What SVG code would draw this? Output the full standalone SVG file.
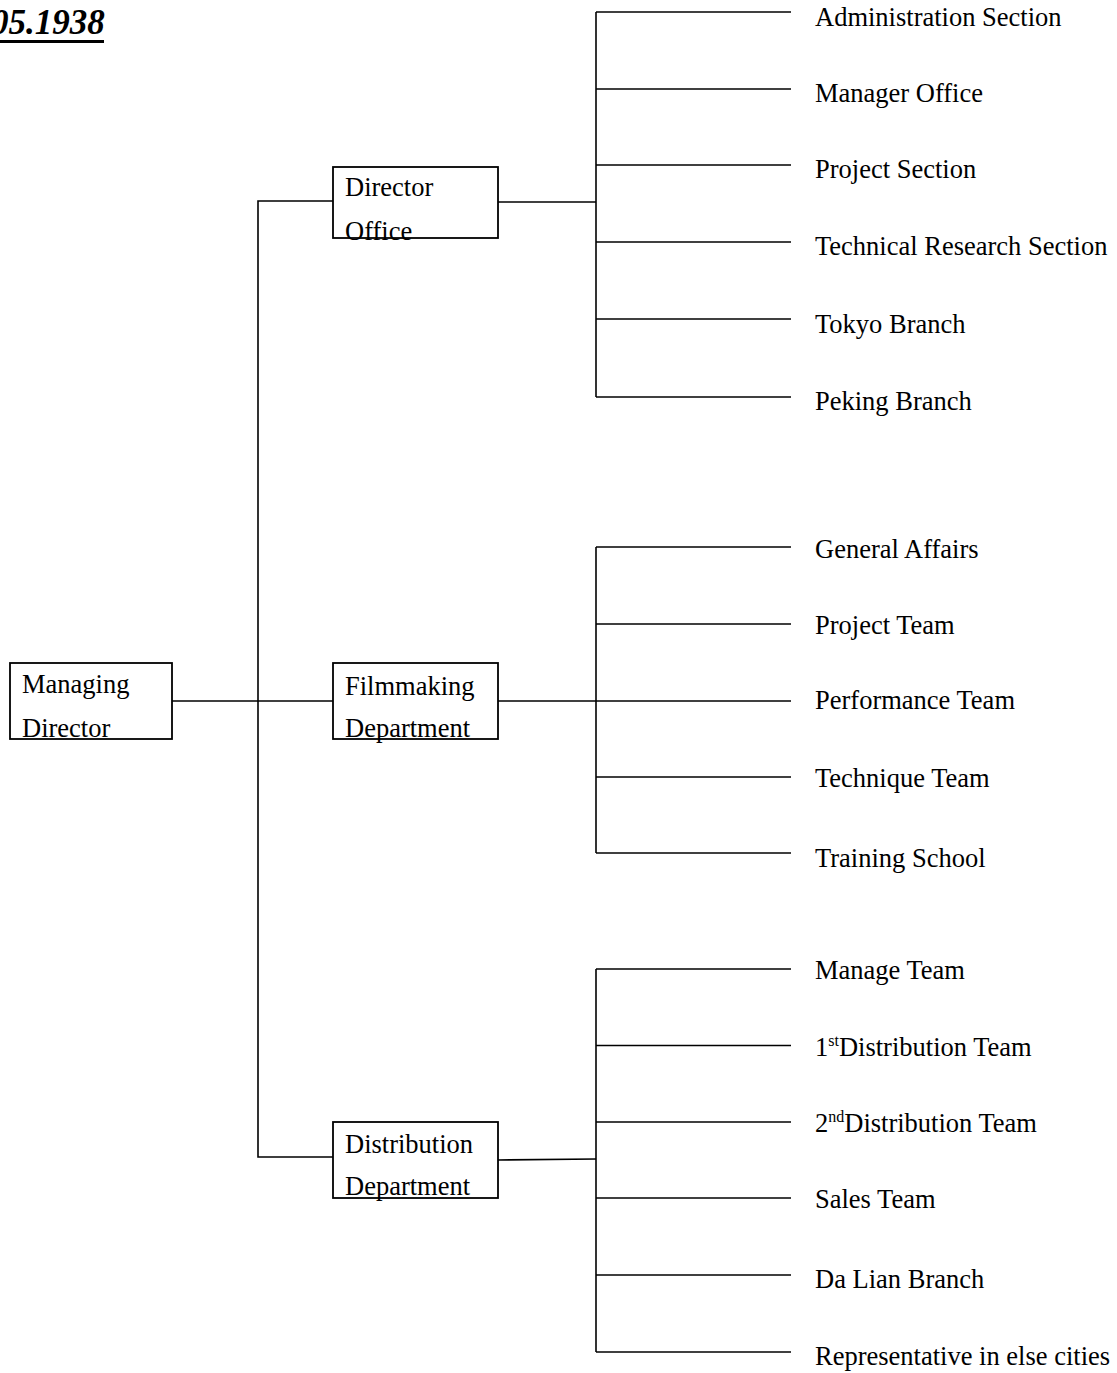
<svg xmlns="http://www.w3.org/2000/svg" width="1117" height="1373" viewBox="0 0 1117 1373">
<style>
.ln{stroke:#000;stroke-width:1.6;fill:none}
.box{stroke:#000;stroke-width:1.8;fill:none}
.t{font-family:"Liberation Serif","Times New Roman",serif;font-size:26.5px;fill:#000}
.title{font-family:"Liberation Serif","Times New Roman",serif;font-size:35px;font-weight:bold;font-style:italic;fill:#000}
.sup{font-size:16px}
</style>
<rect width="1117" height="1373" fill="#fff"/>
<g id="title">
<text class="title" x="-9" y="34">05.1938</text>
<line x1="0" y1="41.5" x2="104" y2="41.5" stroke="#000" stroke-width="3"/>
</g>
<g id="connectors">
<line class="ln" x1="172" y1="701" x2="333" y2="701"/>
<polyline class="ln" points="333,201 258,201 258,1157 333,1157"/>
<line class="ln" x1="498" y1="202" x2="596" y2="202"/>
<line class="ln" x1="498" y1="701" x2="596" y2="701"/>
<line class="ln" x1="498" y1="1160" x2="596" y2="1159"/>
<line class="ln" x1="596" y1="12" x2="596" y2="397"/>
<line class="ln" x1="596" y1="12" x2="791" y2="12"/>
<line class="ln" x1="596" y1="89" x2="791" y2="89"/>
<line class="ln" x1="596" y1="165" x2="791" y2="165"/>
<line class="ln" x1="596" y1="242" x2="791" y2="242"/>
<line class="ln" x1="596" y1="319" x2="791" y2="319"/>
<line class="ln" x1="596" y1="397" x2="791" y2="397"/>
<line class="ln" x1="596" y1="547" x2="596" y2="853"/>
<line class="ln" x1="596" y1="547" x2="791" y2="547"/>
<line class="ln" x1="596" y1="624" x2="791" y2="624"/>
<line class="ln" x1="596" y1="701" x2="791" y2="701"/>
<line class="ln" x1="596" y1="777" x2="791" y2="777"/>
<line class="ln" x1="596" y1="853" x2="791" y2="853"/>
<line class="ln" x1="596" y1="969" x2="596" y2="1352"/>
<line class="ln" x1="596" y1="969" x2="791" y2="969"/>
<line class="ln" x1="596" y1="1045.5" x2="791" y2="1045.5"/>
<line class="ln" x1="596" y1="1122" x2="791" y2="1122"/>
<line class="ln" x1="596" y1="1198" x2="791" y2="1198"/>
<line class="ln" x1="596" y1="1275" x2="791" y2="1275"/>
<line class="ln" x1="596" y1="1352" x2="791" y2="1352"/>
</g>
<g id="managing-director">
<text class="t" x="22" y="693">Managing</text>
<text class="t" x="22" y="737">Director</text>
<rect class="box" x="10" y="663" width="162" height="76"/>
</g>
<g id="director-office">
<text class="t" x="345" y="196">Director</text>
<text class="t" x="345" y="240">Office</text>
<rect class="box" x="333" y="167" width="165" height="71"/>
</g>
<g id="filmmaking-department">
<text class="t" x="345" y="695">Filmmaking</text>
<text class="t" x="345" y="737">Department</text>
<rect class="box" x="333" y="663" width="165" height="76"/>
</g>
<g id="distribution-department">
<text class="t" x="345" y="1153">Distribution</text>
<text class="t" x="345" y="1195">Department</text>
<rect class="box" x="333" y="1122" width="165" height="76"/>
</g>
<g id="administration-section"><text class="t" x="815" y="26">Administration Section</text></g>
<g id="manager-office"><text class="t" x="815" y="102">Manager Office</text></g>
<g id="project-section"><text class="t" x="815" y="178">Project Section</text></g>
<g id="technical-research-section"><text class="t" x="815" y="255">Technical Research Section</text></g>
<g id="tokyo-branch"><text class="t" x="815" y="333">Tokyo Branch</text></g>
<g id="peking-branch"><text class="t" x="815" y="410">Peking Branch</text></g>
<g id="general-affairs"><text class="t" x="815" y="558">General Affairs</text></g>
<g id="project-team"><text class="t" x="815" y="634">Project Team</text></g>
<g id="performance-team"><text class="t" x="815" y="709">Performance Team</text></g>
<g id="technique-team"><text class="t" x="815" y="787">Technique Team</text></g>
<g id="training-school"><text class="t" x="815" y="867">Training School</text></g>
<g id="manage-team"><text class="t" x="815" y="979">Manage Team</text></g>
<g id="first-distribution-team"><text class="t" x="815" y="1056">1<tspan class="sup" dy="-10">st</tspan><tspan dy="10">Distribution Team</tspan></text></g>
<g id="second-distribution-team"><text class="t" x="815" y="1132">2<tspan class="sup" dy="-10">nd</tspan><tspan dy="10">Distribution Team</tspan></text></g>
<g id="sales-team"><text class="t" x="815" y="1208">Sales Team</text></g>
<g id="da-lian-branch"><text class="t" x="815" y="1288">Da Lian Branch</text></g>
<g id="representative"><text class="t" x="815" y="1365">Representative in else cities</text></g>
</svg>
